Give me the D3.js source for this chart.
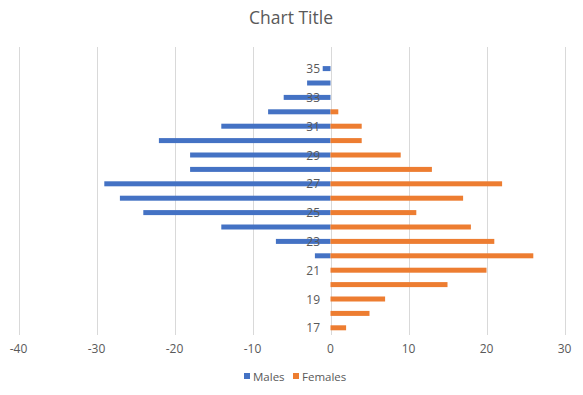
<!DOCTYPE html>
<html>
<head>
<meta charset="utf-8">
<script src="https://cdn.jsdelivr.net/npm/d3@7"></script>
<style>
  body { margin: 0; background: #fff; }
  text { font-family: "Open Sans", "Liberation Sans", sans-serif; fill: #595959; }
</style>
</head>
<body>
<div id="chart"></div>
<script>
// ages, bottom (17) to top; 36 is an empty row in the sheet
const ages = [17, 18, 19, 20, 21, 22, 23, 24, 25, 26, 27, 28, 29, 30, 31, 32, 33, 34, 35, 36];
const males = [0, 0, 0, 0, 0, -2, -7, -14, -24, -27, -29, -18, -18, -22, -14, -8, -6, -3, -1, null];
const females = [2, 5, 7, 15, 20, 26, 21, 18, 11, 17, 22, 13, 9, 4, 4, 1, 0, 0, 0, null];
const xTicks = [-40, -30, -20, -10, 0, 10, 20, 30];
const ageLabels = [17, 19, 21, 23, 25, 27, 29, 31, 33, 35];

const ctx = {
    W: 583,
    H: 395,
    top: 47,
    bottom: 335,
    barH: 5,
};

const svg = d3.select("#chart").append("svg")
    .attr("width", ctx.W)
    .attr("height", ctx.H);

const x = d3.scaleLinear().domain([-40, 30]).range([18.5, 564.5]);
const y = d3.scaleBand()
    .domain(ages.slice().reverse())
    .range([ctx.top, ctx.bottom])
    .padding(0);

// title
svg.append("text")
    .attr("x", 291)
    .attr("y", 24)
    .attr("text-anchor", "middle")
    .style("font-size", "17.5px")
    .text("Chart Title");

// gridlines
svg.append("g")
    .selectAll("line")
    .data(xTicks)
    .enter()
    .append("line")
    .attr("x1", d => Math.round(x(d)) + 0.5)
    .attr("x2", d => Math.round(x(d)) + 0.5)
    .attr("y1", ctx.top)
    .attr("y2", ctx.bottom)
    .style("stroke", "#d9d9d9")
    .style("stroke-width", 1);

// x labels
svg.append("g")
    .selectAll("text")
    .data(xTicks)
    .enter()
    .append("text")
    .attr("x", d => x(d))
    .attr("y", 353)
    .attr("text-anchor", "middle")
    .style("font-size", "12px")
    .text(d => d);

const rows = ages.map((a, i) => ({ age: a, m: males[i], f: females[i] }));

const cy = d => y(d.age) + y.bandwidth() / 2 - ctx.barH / 2;

// males
svg.append("g")
    .selectAll("rect")
    .data(rows.filter(d => d.m))
    .enter()
    .append("rect")
    .attr("x", d => x(d.m))
    .attr("width", d => x(0) - x(d.m))
    .attr("y", cy)
    .attr("height", ctx.barH)
    .style("fill", "#4472c4");

// females
svg.append("g")
    .selectAll("rect")
    .data(rows.filter(d => d.f))
    .enter()
    .append("rect")
    .attr("x", x(0))
    .attr("width", d => x(d.f) - x(0))
    .attr("y", cy)
    .attr("height", ctx.barH)
    .style("fill", "#ed7d31");

// age labels next to zero line
svg.append("g")
    .selectAll("text")
    .data(ageLabels)
    .enter()
    .append("text")
    .attr("x", x(0) - 10.5)
    .attr("y", d => y(d) + y.bandwidth() / 2 + 4.5)
    .attr("text-anchor", "end")
    .style("font-size", "12px")
    .text(d => d);

// legend
const legend = svg.append("g");
const items = [
    { name: "Males", color: "#4472c4", x: 244 },
    { name: "Females", color: "#ed7d31", x: 293 },
];
items.forEach(it => {
    legend.append("rect")
        .attr("x", it.x)
        .attr("y", 373)
        .attr("width", 6)
        .attr("height", 6)
        .style("fill", it.color);
    legend.append("text")
        .attr("x", it.x + 9)
        .attr("y", 380.5)
        .style("font-size", "11.5px")
        .text(it.name);
});
</script>
</body>
</html>
